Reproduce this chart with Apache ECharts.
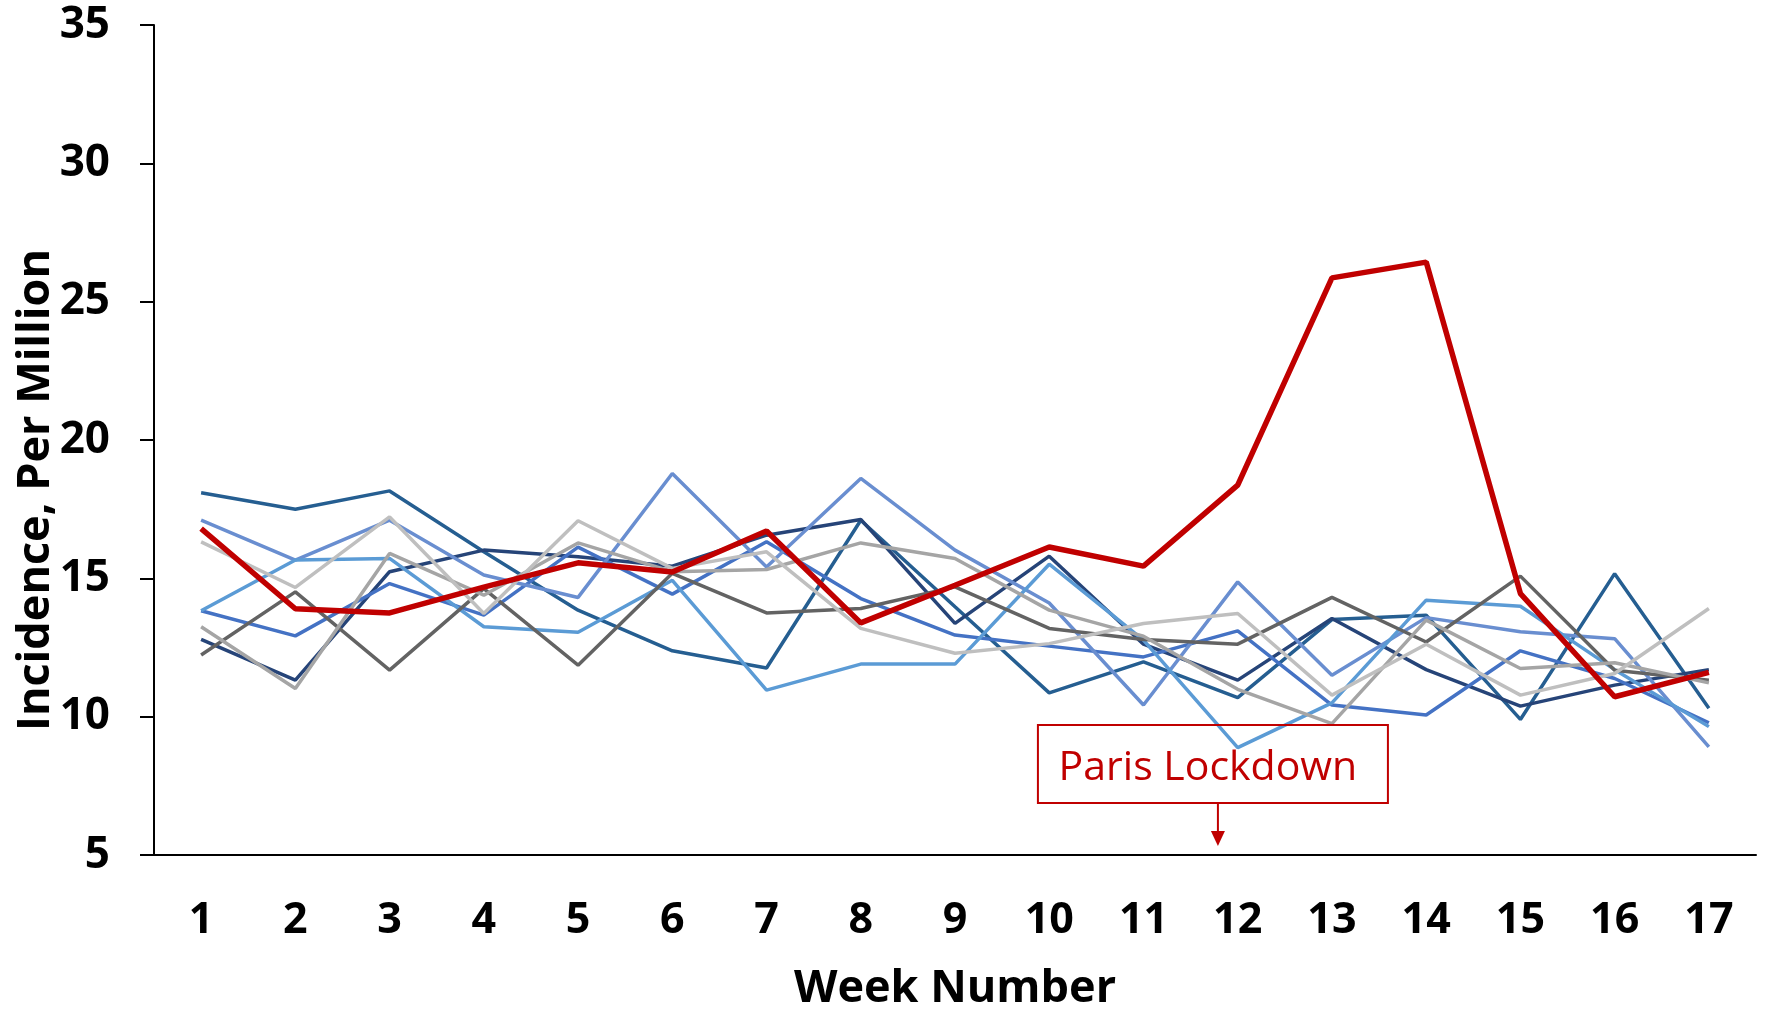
<!DOCTYPE html>
<html>
<head>
<meta charset="utf-8">
<title>Incidence per million by week</title>
<script src="https://cdn.jsdelivr.net/npm/echarts@6.0.0/dist/echarts.min.js"></script>
<style>
  html, body { margin: 0; padding: 0; background: #fff; }
  #chart { width: 1771px; height: 1011px; }
</style>
</head>
<body>
<div id="chart"></div>
<script>
const weeks = ['1', '2', '3', '4', '5', '6', '7', '8', '9', '10', '11', '12', '13', '14', '15', '16', '17']

// Paris (highlighted) and the comparison regions
const paris = [16.8, 13.9, 13.75, 14.68, 15.56, 15.23, 16.71, 13.39, 14.75, 16.13, 15.44, 18.37, 25.86, 26.43, 14.45, 10.72, 11.6]
const regionA = [18.09, 17.5, 18.16, 15.96, 13.85, 12.38, 11.76, 17.1, 13.97, 10.86, 11.98, 10.69, 13.51, 13.67, 9.9, 15.17, 10.3]
const regionB = [12.79, 11.32, 15.24, 16.02, 15.78, 15.44, 16.56, 17.13, 13.37, 15.8, 12.62, 11.32, 13.55, 11.7, 10.38, 11.14, 11.7]
const regionC = [13.83, 12.92, 14.81, 13.67, 16.13, 14.43, 16.32, 14.27, 12.95, 12.55, 12.16, 13.1, 10.42, 10.06, 12.38, 11.38, 9.78]
const regionD = [17.1, 15.66, 17.1, 15.12, 14.31, 18.79, 15.41, 18.61, 16.02, 14.11, 10.42, 14.87, 11.5, 13.58, 13.07, 12.82, 8.91]
const regionE = [13.83, 15.66, 15.72, 13.25, 13.05, 14.93, 10.96, 11.9, 11.9, 15.51, 12.77, 8.88, 10.5, 14.21, 13.99, 11.7, 9.64]
const regionF = [12.23, 14.51, 11.68, 14.63, 11.86, 15.18, 13.75, 13.91, 14.69, 13.19, 12.79, 12.62, 14.31, 12.7, 15.08, 11.68, 11.32]
const regionG = [13.25, 11.02, 15.9, 14.39, 16.28, 15.24, 15.32, 16.28, 15.72, 13.85, 12.91, 10.99, 9.75, 13.49, 11.74, 11.95, 11.22]
const regionH = [16.32, 14.67, 17.22, 13.73, 17.08, 15.36, 15.96, 13.19, 12.29, 12.64, 13.37, 13.73, 10.78, 12.62, 10.78, 11.56, 13.91]

const yMin = 5
const yMax = 35
const yStep = 5

const lockdownLabel = 'Paris Lockdown'
const lockdownWeek = 11.79 // arrow sits just left of week 12

const font = "'Open Sans', 'Noto Sans', sans-serif"

const others = [
  { name: 'A', data: regionA, color: '#255E91' },
  { name: 'B', data: regionB, color: '#264478' },
  { name: 'C', data: regionC, color: '#4472C4' },
  { name: 'D', data: regionD, color: '#698ED0' },
  { name: 'E', data: regionE, color: '#5B9BD5' },
  { name: 'F', data: regionF, color: '#636363' },
  { name: 'G', data: regionG, color: '#A5A5A5' },
  { name: 'H', data: regionH, color: '#BFBFBF' }
]

const series = others.map(function (s) {
  return {
    name: s.name,
    type: 'line',
    data: s.data,
    symbol: 'none',
    lineStyle: { color: s.color, width: 3.5 },
    z: 2
  }
})
series.push({
  name: 'Paris',
  type: 'line',
  data: paris,
  symbol: 'none',
  lineStyle: { color: '#C00000', width: 5.5 },
  z: 3
})

const chart = echarts.init(document.getElementById('chart'))
chart.setOption({
  animation: false,
  backgroundColor: '#fff',
  grid: { left: 154, right: 15, top: 25, bottom: 156, outerBoundsMode: 'none', containLabel: false },
  xAxis: {
    type: 'category',
    data: weeks,
    boundaryGap: true,
    name: 'Week Number',
    nameLocation: 'middle',
    nameGap: 112,
    nameTextStyle: { fontFamily: font, fontWeight: 'bold', fontSize: 45, color: '#000' },
    axisLine: { lineStyle: { color: '#000', width: 2 } },
    axisTick: { length: 14, lineStyle: { color: '#000', width: 2 } },
    axisLabel: { margin: 44, fontFamily: font, fontWeight: 'bold', fontSize: 43, color: '#000' },
    splitLine: { show: false }
  },
  yAxis: {
    type: 'value',
    min: yMin,
    max: yMax,
    interval: yStep,
    axisLine: { show: true, lineStyle: { color: '#000', width: 2 } },
    axisTick: { show: true, length: 14, lineStyle: { color: '#000', width: 2 } },
    axisLabel: { margin: 44, fontFamily: font, fontWeight: 'bold', fontSize: 44, color: '#000' },
    splitLine: { show: false }
  },
  series: series
})

// annotation: box + arrow pointing at the lockdown week
const p11 = chart.convertToPixel({ xAxisIndex: 0 }, '11')
const p12 = chart.convertToPixel({ xAxisIndex: 0 }, '12')
const arrowX = p11 + (lockdownWeek - 11) * (p12 - p11)
const axisY = chart.convertToPixel({ yAxisIndex: 0 }, yMin)

chart.setOption({
  graphic: [
    {
      type: 'text',
      x: 36,
      y: 490,
      rotation: Math.PI / 2,
      style: {
        text: 'Incidence, Per Million',
        align: 'center',
        verticalAlign: 'middle',
        font: 'bold 45px ' + font,
        fill: '#000'
      }
    },
    {
      type: 'rect',
      shape: { x: arrowX - 180, y: axisY - 130, width: 350, height: 78 },
      style: { fill: 'none', stroke: '#C00000', lineWidth: 2 },
      z: 10
    },
    {
      type: 'text',
      x: arrowX - 10,
      y: axisY - 87,
      style: {
        text: lockdownLabel,
        align: 'center',
        verticalAlign: 'middle',
        font: '41px ' + font,
        fill: '#C00000'
      },
      z: 10
    },
    {
      type: 'line',
      shape: { x1: arrowX, y1: axisY - 52, x2: arrowX, y2: axisY - 22 },
      style: { stroke: '#C00000', lineWidth: 2 },
      z: 10
    },
    {
      type: 'polygon',
      shape: { points: [[arrowX - 7, axisY - 24], [arrowX + 7, axisY - 24], [arrowX, axisY - 9]] },
      style: { fill: '#C00000' },
      z: 10
    }
  ]
})
</script>
</body>
</html>
